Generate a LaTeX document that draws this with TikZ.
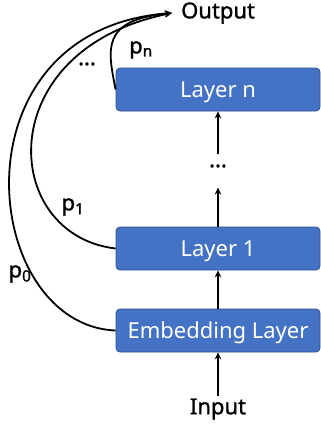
\documentclass[tikz,border=0pt]{standalone}
\usepackage{fontspec}
\setmainfont{Noto Sans}
\newfontfamily\labfont[FakeBold=1.2]{Noto Sans}
\usetikzlibrary{arrows.meta}
\definecolor{boxblue}{HTML}{4472C4}
\definecolor{boxedge}{HTML}{2F528F}
\begin{document}
\begin{tikzpicture}[x=1pt,y=-1pt,
  layerbox/.style={draw=boxedge,line width=0.8pt,fill=boxblue,rounded corners=4pt,
    minimum width=204pt,minimum height=43pt,text=white,font=\fontsize{22}{24}\selectfont,
    inner sep=0pt,text height=16pt,text depth=0pt},
  lbl/.style={font=\labfont\fontsize{22}{24}\selectfont,inner sep=0pt},
  conn/.style={line width=1.8pt,-{Stealth[length=7pt,width=6.5pt]}},
  skip/.style={line width=1.8pt,-{Stealth[length=7pt,width=6.5pt]}}]
\useasboundingbox (0,0) rectangle (321,429);
\node[layerbox] (ln) at (218,89.5) {Layer n};
\node[layerbox] (l1) at (218,248.5) {Layer 1};
\node[layerbox] (emb) at (218,330.5) {Embedding Layer};
\node[lbl] (in) at (218,409) {Input};
\node[lbl,anchor=west] (out) at (181,13) {Output};
\node[lbl] (dots) at (218,166) {...};
\node[lbl] (ldots) at (87,64) {...};
\node[lbl] (pn) at (141,50) {p\textsubscript{n}};
\node[lbl] (p1) at (73,207) {p\textsubscript{1}};
\node[lbl] (p0) at (20,274) {p\textsubscript{0}};
\coordinate (tip) at (172,13);
\draw[conn] (in.north) ++(0,-2) -- (emb.south);
\draw[conn] (emb.north) -- (l1.south);
\draw[conn] (l1.north) -- ++(0,-39);
\draw[conn] (dots.north) ++(0,-10) -- (ln.south);
\draw[skip] (ln.west) .. controls (108,50) and (100,20) .. (tip);
\draw[skip] (l1.west) .. controls (0,235) and (-10,50) .. (tip);
\draw[skip] (emb.west) .. controls (-20,325) and (-50,30) .. (tip);
\end{tikzpicture}
\end{document}
